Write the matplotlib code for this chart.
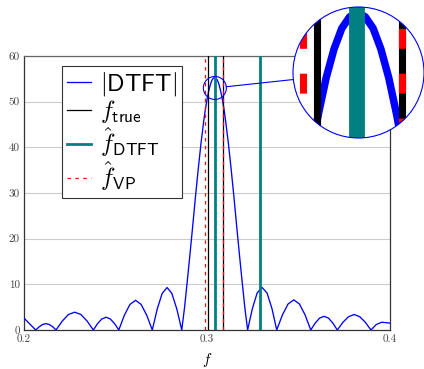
import numpy as np
import matplotlib.pyplot as plt
from matplotlib.patches import Circle, Ellipse
from matplotlib.lines import Line2D

plt.rcParams['mathtext.fontset'] = 'cm'

# |DTFT| curve (frequency, magnitude)
freq = [0.2000, 0.2032, 0.2064, 0.2083, 0.2101, 0.2120, 0.2138, 0.2157, 0.2175,
        0.2209, 0.2243, 0.2277, 0.2311, 0.2345, 0.2379,
        0.2402, 0.2425, 0.2449, 0.2472, 0.2495, 0.2518,
        0.2548, 0.2579, 0.2610, 0.2640, 0.2671, 0.2701,
        0.2728, 0.2755, 0.2782, 0.2808, 0.2835, 0.2862,
        0.2877, 0.2892, 0.2907, 0.2922, 0.2937, 0.2952, 0.2967, 0.2982,
        0.29895, 0.2997, 0.30045, 0.3012, 0.30195, 0.3027, 0.30345, 0.3042,
        0.30495, 0.3057, 0.30645, 0.3072, 0.30795, 0.3087, 0.30945, 0.3102,
        0.3117, 0.3132, 0.3147, 0.3162, 0.3177, 0.3192, 0.3207, 0.3222,
        0.3248, 0.3274, 0.3300, 0.3328, 0.3355, 0.3381,
        0.3412, 0.3443, 0.3474, 0.3505, 0.3536, 0.3567,
        0.3591, 0.3615, 0.3640, 0.3664, 0.3688, 0.3712,
        0.3743, 0.3773, 0.3804, 0.3835, 0.3865, 0.3896,
        0.3925, 0.3955, 0.3980, 0.4000]
mag = [2.6, 1.3, 0.0, 0.7, 1.2, 1.4, 1.2, 0.7, 0.0,
       1.95, 3.4, 3.9, 3.4, 1.95, 0.0,
       1.4, 2.4, 2.8, 2.4, 1.4, 0.0,
       3.2, 5.6, 6.5, 5.6, 3.2, 0.0,
       4.6, 8.0, 9.3, 8.0, 4.6, 0.0,
       4.8, 10.6, 16.6, 22.8, 29.2, 35.2, 40.8, 45.7,
       47.9, 49.8, 51.4, 52.8, 53.9, 54.7, 55.14, 55.3,
       55.14, 54.7, 53.9, 52.8, 51.4, 49.8, 47.9, 45.7,
       40.8, 35.2, 29.2, 22.8, 16.6, 10.6, 4.8, 0.0,
       4.7, 8.1, 9.35, 8.1, 4.7, 0.0,
       3.3, 5.7, 6.6, 5.7, 3.3, 0.0,
       1.5, 2.6, 3.0, 2.6, 1.5, 0.0,
       1.7, 2.9, 3.4, 2.9, 1.7, 0.0,
       1.2, 1.7, 1.6, 1.5]

f_true = [0.3003, 0.3085]
f_dtft = [0.3042, 0.3292]
f_vp = [0.2990, 0.3085]

BLUE = '#0000ff'
TEAL = '#008080'
RED = '#ff0000'

fig = plt.figure(figsize=(4.24, 3.69), dpi=100)
ax = fig.add_axes([24 / 424, 39 / 369, 366 / 424, 274 / 369])


def draw_all(a, s=1.0, clip=None):
    arts = []
    arts += a.plot(freq, mag, color=BLUE, lw=0.95 * s, zorder=3,
                   label=r'$|\mathsf{DTFT}|$')
    for i, v in enumerate(f_true):
        arts.append(a.axvline(v, color='k', lw=0.9 * s, zorder=4,
                              label=r'$f_{\mathsf{true}}$' if i == 0 else None))
    for i, v in enumerate(f_dtft):
        arts.append(a.axvline(v, color=TEAL, lw=2.0 * s, zorder=5,
                              label=r'$\hat{f}_{\mathsf{DTFT}}$' if i == 0 else None))
    for i, v in enumerate(f_vp):
        arts.append(a.axvline(v, color=RED, lw=0.9 * s, zorder=6, dashes=(2.8, 3.5),
                              label=r'$\hat{f}_{\mathsf{VP}}$' if i == 0 else None))
    if clip is not None:
        for art in arts:
            art.set_clip_path(clip)


draw_all(ax)

ax.set_xlim(0.2, 0.4)
ax.set_ylim(0, 60)
ax.set_xticks([0.2, 0.3, 0.4])
ax.set_xticklabels(['0.2', '0.3', '0.4'], fontfamily='cmr10')
ax.set_yticks(range(0, 61, 10))
ax.set_yticklabels([str(v) for v in range(0, 61, 10)], fontfamily='cmr10')
ax.tick_params(length=0, pad=3, labelsize=8, labelcolor='#444444')
ax.yaxis.grid(True, color='#cccccc', lw=0.8)
ax.set_axisbelow(True)
for sp in ax.spines.values():
    sp.set_color('#333333')
    sp.set_linewidth(0.9)
ax.spines['top'].set_color('#666666')
ax.set_xlabel('$f$', fontsize=11, labelpad=5)

leg = ax.legend(loc='upper left', bbox_to_anchor=(0.104, 0.965), borderaxespad=0,
                fontsize=17.5, handlelength=1.0, handletextpad=0.35, labelspacing=0.0,
                borderpad=0.2, fancybox=False, framealpha=1, edgecolor='#333333')
leg.get_frame().set_linewidth(0.8)

# magnifier
fc, vc = 0.3043, 53.0
r_small, r_big = 11.5, 65.5
rf = r_small / 366 * 0.2
rv = r_small / 274 * 60
ax.add_patch(Ellipse((fc, vc), 2 * rf, 2 * rv, fill=False, ec=BLUE, lw=0.8, zorder=8))

cx, cy = 358.5, 369 - 72.5
axin = fig.add_axes([(cx - r_big) / 424, (cy - r_big) / 369, 2 * r_big / 424, 2 * r_big / 369])
axin.set_xlim(fc - rf, fc + rf)
axin.set_ylim(vc - rv, vc + rv)
axin.axis('off')
bg = Circle((0.5, 0.5), 0.5, transform=axin.transAxes, fc='white', ec='none', zorder=0)
axin.add_patch(bg)
draw_all(axin, s=r_big / r_small, clip=bg)
axin.add_patch(Circle((0.5, 0.5), 0.5, transform=axin.transAxes, fill=False,
                      ec=BLUE, lw=0.8, zorder=10, clip_on=False))

p1 = ax.transData.transform((fc, vc))
p2 = axin.transAxes.transform((0.5, 0.5))
u = (p2 - p1) / np.hypot(*(p2 - p1))
a = fig.transFigure.inverted().transform(p1 + u * r_small)
b = fig.transFigure.inverted().transform(p2 - u * r_big)
fig.add_artist(Line2D([a[0], b[0]], [a[1], b[1]], color=BLUE, lw=0.8,
                      transform=fig.transFigure))

fig.savefig('out.png', dpi=100)
